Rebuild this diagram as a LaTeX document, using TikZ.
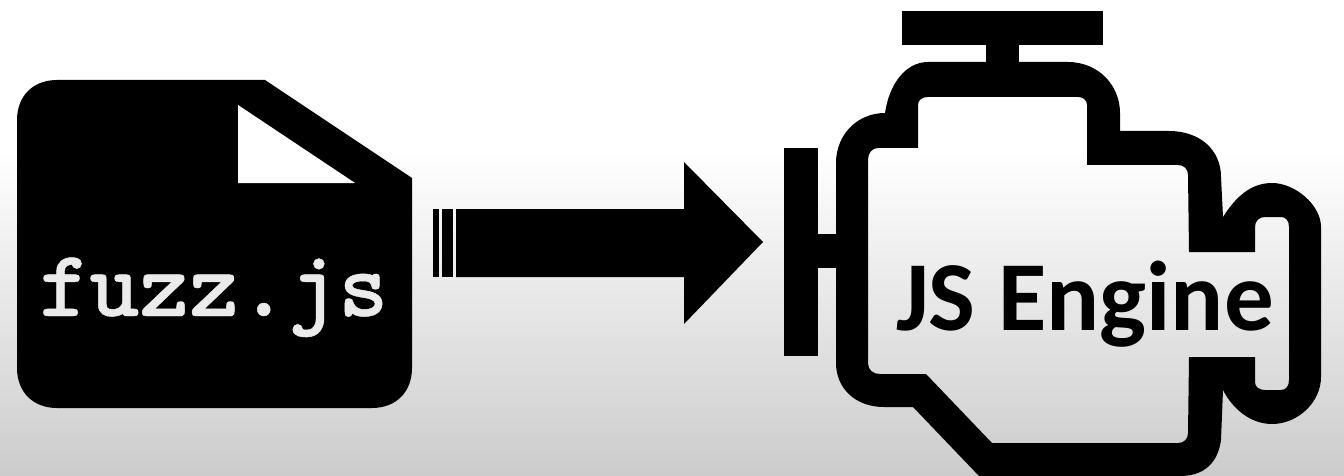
\documentclass[tikz,border=0pt]{standalone}
\usepackage{fontspec}
\newfontfamily\filefont[FakeBold=0.5]{lmmonolt10-bold.otf}
\newfontfamily\enginefont{Carlito}
\usetikzlibrary{calc,positioning}
\definecolor{bgtop}{gray}{1}
\definecolor{bgbottom}{gray}{0.80}
\tikzset{
  icon fill/.style={fill=black,draw=none},
  file label/.style={font=\filefont\fontsize{47.4}{47.4}\selectfont,text=white!92!black,
    inner sep=0pt,anchor=base},
  engine label/.style={font=\enginefont\bfseries\fontsize{49.5}{49.5}\selectfont,text=black,
    inner sep=0pt,anchor=base}
}
\begin{document}
\begin{tikzpicture}[x=0.5pt,y=-0.5pt]
    \useasboundingbox (0,0) rectangle (1344,476);
    % background
    \fill[white] (0,0) rectangle (1344,150);
    \shade[top color=bgtop,bottom color=bgbottom,draw=none] (0,150) rectangle (1344,476);
    % file
    \fill[icon fill] (57,80) -- (265,80) -- (412,178) -- (412,368)
      .. controls (412,392) and (396,408) .. (372,408) -- (57,408)
      .. controls (33,408) and (17,392) .. (17,368) -- (17,120)
      .. controls (17,96) and (33,80) .. (57,80) -- cycle;
    \fill[white] (238,105) -- (355,183) -- (238,183) -- cycle;
    \node[file label] (filename) at (214,316) {fuzz.js};
    % arrow
    \fill[icon fill] (456,209) -- (684,209) -- (684,162) -- (763,242) -- (684,324)
      -- (684,277) -- (456,277) -- cycle;
    \fill[icon fill] (433,209) rectangle (439,277);
    \fill[icon fill] (442,209) rectangle (453,277);
    % engine
    \fill[icon fill] (902,11) rectangle (1103,45);
    \fill[icon fill] (986,45) rectangle (1019,70);
    \fill[icon fill] (784,148) rectangle (818,356);
    \fill[icon fill] (818,234) rectangle (840,268);
    \fill[icon fill,even odd rule]
      (885,113) .. controls (889,85) and (905,62) .. (928,62) -- (1068,62)
      .. controls (1098,62) and (1120,85) .. (1120,113) -- (1120,131) -- (1169,131)
      .. controls (1200,131) and (1221,150) .. (1221,177) -- (1223,217)
      .. controls (1235,198) and (1250,183) .. (1272,183)
      .. controls (1295,183) and (1321,205) .. (1321,227) -- (1321,377)
      .. controls (1321,402) and (1298,424) .. (1272,424)
      .. controls (1250,424) and (1232,408) .. (1223,390) -- (1221,440)
      .. controls (1218,462) and (1205,476) .. (1180,476) -- (979,476) -- (913,407) -- (884,407)
      .. controls (855,407) and (836,388) .. (836,363) -- (836,163)
      .. controls (836,135) and (857,113) .. (885,113) -- cycle
      (918,148) -- (918,105) .. controls (918,100) and (922,97) .. (928,97) -- (1078,97)
      .. controls (1083,97) and (1087,100) .. (1087,105) -- (1087,165) -- (1178,165)
      .. controls (1184,165) and (1188,169) .. (1188,175) -- (1189,252) -- (1255,252) -- (1255,227)
      .. controls (1255,221) and (1259,217) .. (1265,217) -- (1281,217)
      .. controls (1286,217) and (1289,221) .. (1289,227) -- (1289,380)
      .. controls (1289,386) and (1286,390) .. (1281,390) -- (1265,390)
      .. controls (1259,390) and (1255,387) .. (1255,382) -- (1255,357) -- (1189,357) -- (1188,433)
      .. controls (1188,439) and (1184,443) .. (1178,443) -- (992,443) -- (926,374) -- (880,374)
      .. controls (873,374) and (868,370) .. (868,363) -- (868,160)
      .. controls (868,153) and (872,148) .. (878,148) -- cycle;
    \node[engine label] (enginename) at (1085,330) {JS Engine};
  \end{tikzpicture}
\end{document}
